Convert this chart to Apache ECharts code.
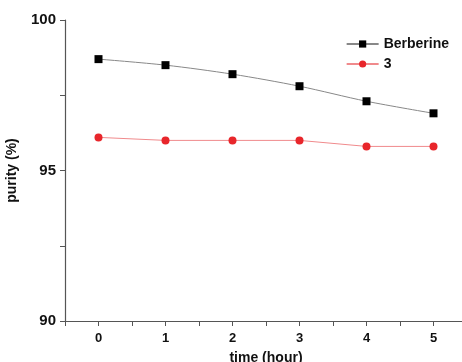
<!DOCTYPE html>
<html>
<head>
<meta charset="utf-8">
<script src="https://cdn.jsdelivr.net/npm/echarts@6/dist/echarts.min.js"></script>
<style>
html,body{margin:0;padding:0;background:#fff;}
#main{width:462px;height:362px;}
</style>
</head>
<body>
<div id="main"></div>
<script>
// 数据
var hours = [0, 1, 2, 3, 4, 5];
var berberine = [98.7, 98.5, 98.2, 97.8, 97.3, 96.9];
var compound3 = [96.1, 96.0, 96.0, 96.0, 95.8, 95.8];
var yTicks = [90, 95, 100];

function pairs(xs, ys){
	var out = [];
	for (var i = 0; i < xs.length; i++) out.push([xs[i], ys[i]]);
	return out;
}

var myChart = echarts.init(document.getElementById('main'));
var fontFam = 'Liberation Sans, Arial, sans-serif';
var axisCol = '#555';

var option = {
	animation: false,
	grid: {left: 65, right: -5, top: 20, bottom: 41, outerBoundsMode: 'none'},
	legend: {
		right: 8, top: 32, orient: 'vertical', itemGap: 6,
		itemWidth: 32, itemHeight: 9,
		textStyle: {fontFamily: fontFam, fontWeight: 'bold', fontSize: 14, color: '#111'},
		data: ['Berberine', '3']
	},
	xAxis: {
		type: 'value', min: -0.5, max: 5.5, interval: 0.5,
		name: 'time (hour)', nameLocation: 'middle', nameGap: 30,
		nameTextStyle: {fontFamily: fontFam, fontWeight: 'bold', fontSize: 14, color: '#111'},
		axisLine: {onZero: false, lineStyle: {color: axisCol, width: 1.2}},
		axisTick: {length: 5, lineStyle: {color: axisCol}},
		splitLine: {show: false},
		axisLabel: {
			fontFamily: fontFam, fontWeight: 'bold', fontSize: 13, color: '#111', margin: 11,
			formatter: function(v){ return hours.indexOf(v) >= 0 ? String(v) : ''; }
		}
	},
	yAxis: {
		type: 'value', min: 90, max: 100, interval: 2.5,
		name: 'purity (%)', nameLocation: 'middle', nameGap: 46, nameMoveOverlap: false,
		nameTextStyle: {fontFamily: fontFam, fontWeight: 'bold', fontSize: 14, color: '#111'},
		axisLine: {show: true, onZero: false, lineStyle: {color: axisCol, width: 1.2}},
		axisTick: {show: true, length: 5, lineStyle: {color: axisCol}},
		splitLine: {show: false},
		axisLabel: {
			fontFamily: fontFam, fontWeight: 'bold', fontSize: 15, color: '#111', margin: 9,
			formatter: function(v){ return yTicks.indexOf(v) >= 0 ? String(v) : ''; }
		}
	},
	series: [{
		name: 'Berberine',
		type: 'line',
		smooth: 0.3,
		data: pairs(hours, berberine),
		symbol: 'rect', symbolSize: 8,
		itemStyle: {color: '#000'},
		lineStyle: {color: '#888', width: 1}
	}, {
		name: '3',
		type: 'line',
		data: pairs(hours, compound3),
		symbol: 'circle', symbolSize: 8,
		itemStyle: {color: '#e8262b'},
		lineStyle: {color: '#f08a8c', width: 1}
	}]
};

myChart.setOption(option);
</script>
</body>
</html>
